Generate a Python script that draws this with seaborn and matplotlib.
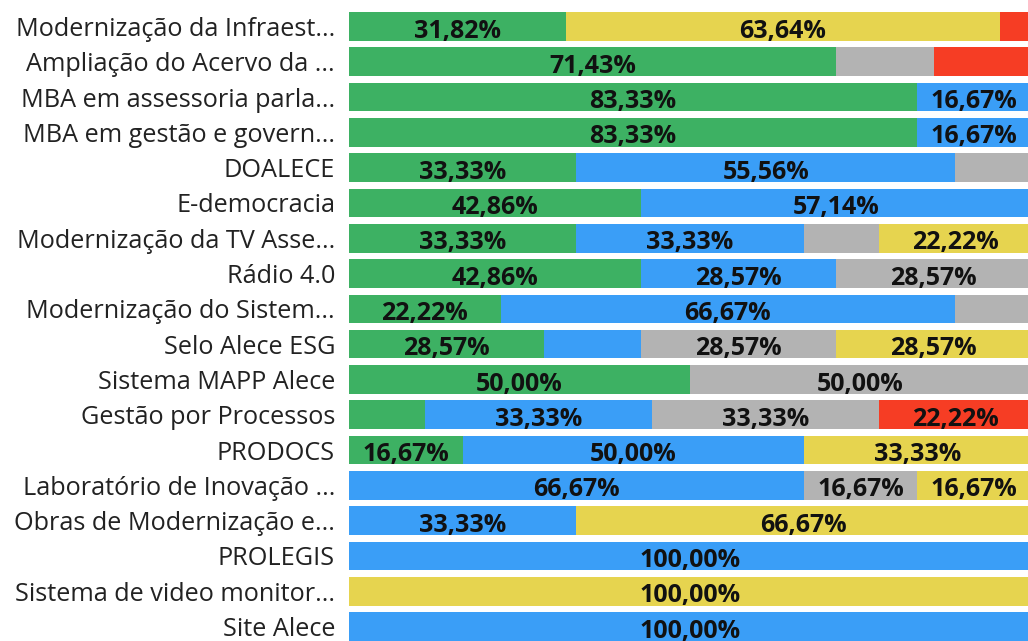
import pandas as pd
import matplotlib.pyplot as plt
import seaborn as sns
import numpy as np

# Projetos (rótulos já truncados como no painel)
projetos = [
    'Modernização da Infraest...',
    'Ampliação do Acervo da ...',
    'MBA em assessoria parla...',
    'MBA em gestão e govern...',
    'DOALECE',
    'E-democracia',
    'Modernização da TV Asse...',
    'Rádio 4.0',
    'Modernização do Sistem...',
    'Selo Alece ESG',
    'Sistema MAPP Alece',
    'Gestão por Processos',
    'PRODOCS',
    'Laboratório de Inovação ...',
    'Obras de Modernização e...',
    'PROLEGIS',
    'Sistema de video monitor...',
    'Site Alece',
]

# Percentuais por status (ordem de empilhamento)
verde = [31.82, 71.43, 83.33, 83.33, 33.33, 42.86, 33.33, 42.86, 22.22, 28.57, 50.00, 11.11, 16.67, 0, 0, 0, 0, 0]
azul = [0, 0, 16.67, 16.67, 55.56, 57.14, 33.33, 28.57, 66.67, 14.29, 0, 33.33, 50.00, 66.67, 33.33, 100.00, 0, 100.00]
cinza = [0, 14.29, 0, 0, 11.11, 0, 11.11, 28.57, 11.11, 28.57, 50.00, 33.33, 0, 16.67, 0, 0, 0, 0]
amarelo = [63.64, 0, 0, 0, 0, 0, 22.22, 0, 0, 28.57, 0, 0, 33.33, 16.67, 66.67, 0, 100.00, 0]
vermelho = [4.55, 14.29, 0, 0, 0, 0, 0, 0, 0, 0, 0, 22.22, 0, 0, 0, 0, 0, 0]

series = [('verde', verde, '#3DB163'), ('azul', azul, '#3A9EF7'),
          ('cinza', cinza, '#B3B3B3'), ('amarelo', amarelo, '#E6D44F'),
          ('vermelho', vermelho, '#F63D24')]

df = pd.DataFrame({nome: vals for nome, vals, _ in series})
df['projeto'] = projetos
nomes = [s[0] for s in series]
cum = df[nomes].cumsum(axis=1)

sns.set_theme(style='white')
plt.rcParams['font.family'] = ['Open Sans', 'DejaVu Sans']

fig = plt.figure(figsize=(10.28, 6.41), dpi=100)
ax = fig.add_axes([349 / 1028, 0, (1031 - 349) / 1028, 1])

# empilhamento: desenha do acumulado maior para o menor
for nome, _, cor in reversed(series):
    sns.barplot(x=cum[nome], y=df['projeto'], color=cor, orient='h',
                width=0.81, ax=ax, saturation=1, linewidth=0)

# rótulos de dados (ocultos quando o segmento é pequeno)
for i in range(len(projetos)):
    left = 0
    for nome in nomes:
        v = df.loc[i, nome]
        if v >= 15:
            ax.text(left + v / 2, i + 0.13, f'{v:.2f}%'.replace('.', ','),
                    ha='center', va='center', fontsize=18, fontweight='bold',
                    color='#111111')
        left += v

ax.set_xlim(0, 100)
ax.set_ylim(17.41, -0.75)
ax.set_xlabel('')
ax.set_ylabel('')
ax.set_xticks([])
ax.tick_params(axis='y', length=0, pad=10, labelsize=18.2, labelcolor='#222222')
sns.despine(ax=ax, left=True, bottom=True)

fig.savefig('out.png', dpi=100)
